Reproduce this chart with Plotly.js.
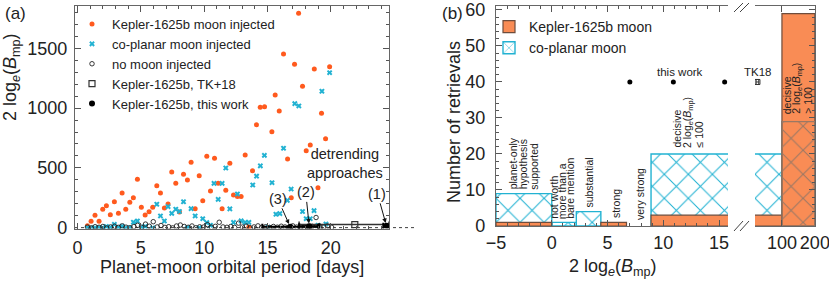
<!DOCTYPE html>
<html><head><meta charset="utf-8">
<script src="https://cdn.plot.ly/plotly-3.0.1.min.js"></script>
<style>html,body{margin:0;padding:0;background:#fff}#chart{width:829px;height:285px}</style>
</head><body><div id="chart"></div>
<script>
// ---------- Panel (a) data ----------
const keplerPeriod = [0.78,1.07,1.38,1.70,1.99,2.28,2.59,2.91,3.23,3.52,3.81,4.13,4.41,4.73,5.04,5.34,5.65,5.94,6.26,6.55,6.86,7.15,7.44,7.76,8.05,8.37,8.68,8.97,9.29,9.61,9.89,10.21,10.50,10.82,11.11,11.42,11.71,12.03,12.32,12.63,12.92,13.24,13.53,13.82,14.13,14.43,14.77,15.05,15.35,15.61,15.93,16.27,16.59,16.88,17.14,17.46,17.77,18.06,18.38,18.70,18.99,19.27,19.59,19.91];
const keplerLnB = [17,53,104,53,154,184,109,217,120,290,154,212,251,405,171,106,134,171,351,290,165,198,466,371,131,446,399,547,159,435,226,597,307,580,371,159,312,538,273,260,260,608,5.5,477,861,1007,1012,-1.5,803,1110,976,1452,574,251,1366,1793,1182,644,691,1327,334,956,744,1346];
const coplanarPeriod = [0.78,1.07,1.38,1.70,1.99,2.28,2.59,2.91,3.23,3.52,3.81,4.13,4.41,4.73,5.04,5.34,5.94,6.26,6.55,6.86,7.15,7.44,7.76,8.05,8.37,8.68,8.97,9.29,9.61,9.89,10.21,10.50,10.78,11.11,11.42,11.71,12.03,12.32,12.63,12.92,13.24,13.53,13.84,14.14,14.44,14.76,15.05,15.36,15.67,15.98,16.27,16.57,16.87,17.16,17.48,17.77,18.06,18.38,18.68,18.99,19.30,19.62,19.91];
const coplanarLnB = [-1,-1,-2,1,-1,10,3,28,3,12,-3,-1,45,56,4,10,-2,196,98,56,176,120,154,135,217,-1,159,98,-2,75,42,20,371,237,371,499,157,44,282,57,44,44,357,431,517,605,3,376,112,118,664,228,323,1037,1018,135,75,75,142,20,1141,31,1296];
const noMoonPeriod = [0.78,1.08,1.39,1.70,2.00,2.30,2.61,2.92,3.22,3.53,3.83,4.14,4.45,4.75,5.06,5.37,5.67,5.98,6.29,6.59,6.90,7.20,7.51,7.82,8.12,8.43,8.74,9.04,9.35,9.65,9.96,10.27,10.57,10.88,11.19,11.49,11.80,12.10,12.41,12.72,13.02,13.33,13.64,13.94,14.25,14.55,14.86,15.17,15.47,15.78,16.09,16.39,16.70,17.00,17.31,17.62,17.92,18.23,18.54,18.84,19.15,19.45,19.76,20.07];
const noMoonLnB = [5,-2,8,3,10,-3,6,12,2,15,4,-1,9,20,3,30,12,50,6,18,2,8,-2,14,22,10,3,14,-1,7,5,25,4,11,45,6,3,9,2,38,5,13,-2,6,15,3,8,1,10,4,12,6,2,15,5,9,3,7,11,85,4,6,14,3];
const tk18Period = [21.9], tk18LnB = [25.6], tk18ErrMinus = [4.4], tk18ErrPlus = [2.7];
const thisWorkPeriod = [24.4, 18.3, 16.8], thisWorkLnB = [15.5, 10.9, 7.0], thisWorkErr = [0.25, 0.8, 2.2];
const detrendLabels = ['(1)', '(2)', '(3)'];

// ---------- Panel (b) data ----------
const binEdges = [-5, 0, 2.2, 4.4, 6.7, 8.9, 100, 200];
const keplerCounts = [1, 0, 0, 1, 0, 3, 59];
const coplanarCounts = [9, 1, 4, 0, 0, 20, 29];
const thisWorkB = [7.0, 10.9, 15.5];
const tk18B = [25.6];
const LOGB = '2 log<sub><i>e</i></sub>(<i>B</i><sub>mp</sub>)';
const evidenceText = [
  ['planet-only', 'hypothesis', 'supported'],
  ['not worth', 'more than a', 'bare mention'],
  ['substantial'],
  ['strong'],
  ['very strong'],
  ['decisive', LOGB, '≤ 100'],
  ['decisive', LOGB, '> 100']
];

// ---------- styling / layout constants ----------
const FONT = 'Liberation Sans, Arial, sans-serif';
const ORANGE_DOT = '#ff5a1e', ORANGE_BAR = '#f98c55', BLUE = '#22b2d2', BROWN = '#9a7864';
const W = 829, H = 285;
const px = v => v / W, py = v => 1 - v / H;
const evidencePlacement = [
  {ax: 'x2', ay: 'y2', x: -2.5, y: 9.6, gap: 10},
  {ax: 'x2', ay: 'y2', x: 0.95, y: 1.4, gap: 8},
  {ax: 'x2', ay: 'y2', x: 3.35, y: 4.6, gap: 0},
  {ax: 'x2', ay: 'y2', x: 5.7, y: 1.6, gap: 0},
  {ax: 'x2', ay: 'y2', x: 7.85, y: 1.2, gap: 0},
  {ax: 'x2', ay: 'y2', x: 12.2, y: 21.2, gap: 11},
  {ax: 'x3', ay: 'y3', x: 147, y: 30.6, gap: 11}
];

// ---------- traces ----------
const traces = [];
traces.push({type: 'scatter', mode: 'markers', x: keplerPeriod, y: keplerLnB, xaxis: 'x', yaxis: 'y',
  name: 'Kepler-1625b moon injected', marker: {color: ORANGE_DOT, size: 5, symbol: 'circle'}});
traces.push({type: 'scatter', mode: 'markers', x: coplanarPeriod, y: coplanarLnB, xaxis: 'x', yaxis: 'y',
  name: 'co-planar moon injected', marker: {color: BLUE, size: 5, symbol: 'x', line: {width: 0}}});
traces.push({type: 'scatter', mode: 'markers', x: noMoonPeriod, y: noMoonLnB, xaxis: 'x', yaxis: 'y',
  name: 'no moon injected', marker: {color: '#222', size: 4.5, symbol: 'circle-open', line: {width: 0.9}}});
traces.push({type: 'scatter', mode: 'markers', x: tk18Period, y: tk18LnB, xaxis: 'x', yaxis: 'y',
  name: 'Kepler-1625b, TK+18', marker: {color: '#333', size: 6, symbol: 'square-open', line: {width: 1.2}},
  error_x: {type: 'data', symmetric: false, array: tk18ErrPlus, arrayminus: tk18ErrMinus, color: '#333', thickness: 1.5, width: 3}});
traces.push({type: 'scatter', mode: 'markers', x: thisWorkPeriod, y: thisWorkLnB, xaxis: 'x', yaxis: 'y',
  name: 'Kepler-1625b, this work', marker: {color: '#000', size: 6, symbol: 'circle'},
  error_x: {type: 'data', array: thisWorkErr, color: '#000', thickness: 2, width: 3}});

// histogram bars on both broken-axis segments
const centers = [], widths = [];
for (let i = 0; i < binEdges.length - 1; i++) {
  centers.push((binEdges[i] + binEdges[i + 1]) / 2);
  widths.push(binEdges[i + 1] - binEdges[i]);
}
function pick(cond) {
  const idx = [];
  for (let i = 0; i < centers.length; i++) if (cond(i)) idx.push(i);
  return idx;
}
const blueIdx = pick(i => coplanarCounts[i] > 0);
const orangeIdx = pick(i => keplerCounts[i] > 0);
const overIdx = pick(i => coplanarCounts[i] > 0 && keplerCounts[i] > coplanarCounts[i]);
[['x2', 'y2', true], ['x3', 'y3', false]].forEach(([xa, ya, leg]) => {
  traces.push({type: 'bar', xaxis: xa, yaxis: ya, legend: 'legend2', legendrank: 2, showlegend: leg,
    name: 'co-planar moon',
    x: blueIdx.map(i => centers[i]), y: blueIdx.map(i => coplanarCounts[i]), width: blueIdx.map(i => widths[i]),
    marker: {color: 'rgba(255,255,255,0)', line: {color: BLUE, width: 1.4},
      pattern: {shape: 'x', fgcolor: BLUE, bgcolor: 'rgba(255,255,255,0)', size: 17, solidity: 0.12}}});
  traces.push({type: 'bar', xaxis: xa, yaxis: ya, legend: 'legend2', legendrank: 1, showlegend: leg,
    name: 'Kepler-1625b moon',
    x: orangeIdx.map(i => centers[i]), y: orangeIdx.map(i => keplerCounts[i]), width: orangeIdx.map(i => widths[i]),
    marker: {color: ORANGE_BAR, line: {color: '#6e4c3c', width: 1.2}}});
  traces.push({type: 'bar', xaxis: xa, yaxis: ya, legend: 'legend2', showlegend: false, hoverinfo: 'skip',
    x: overIdx.map(i => centers[i]), y: overIdx.map(i => coplanarCounts[i]), width: overIdx.map(i => widths[i]),
    marker: {color: 'rgba(255,255,255,0)', line: {color: BROWN, width: 1.2},
      pattern: {shape: 'x', fgcolor: BROWN, bgcolor: 'rgba(255,255,255,0)', size: 17, solidity: 0.12}}});
});
traces.push({type: 'scatter', mode: 'markers', x: thisWorkB, y: thisWorkB.map(() => 40), xaxis: 'x2', yaxis: 'y2',
  showlegend: false, marker: {color: '#000', size: 5}});
traces.push({type: 'scatter', mode: 'markers', x: tk18B, y: tk18B.map(() => 40), xaxis: 'x3', yaxis: 'y3',
  showlegend: false, marker: {color: '#333', size: 5, symbol: 'square-open', line: {width: 1}},
  error_x: {type: 'data', array: [4], color: '#333', thickness: 1, width: 3}});

// ---------- axes ----------
const axisBase = {showline: true, linecolor: '#666', linewidth: 1.2, ticks: 'inside', tickcolor: '#555',
  showgrid: false, zeroline: false, tickfont: {family: FONT, size: 18, color: '#222'}};
const layout = {
  width: W, height: H, margin: {l: 0, r: 0, t: 0, b: 0},
  paper_bgcolor: '#fff', plot_bgcolor: 'rgba(0,0,0,0)',
  font: {family: FONT, color: '#222'},
  barmode: 'overlay',
  xaxis: Object.assign({}, axisBase, {domain: [px(75), px(389)], range: [-0.2, 24.6], anchor: 'y',
    tick0: 0, dtick: 5, ticklen: 6, mirror: 'allticks', ticklabelstandoff: 3,
    minor: {dtick: 1, ticklen: 3, ticks: 'inside', tickcolor: '#555'}}),
  yaxis: Object.assign({}, axisBase, {domain: [1 - 228.5 / H, py(6)], range: [-7, 1854], anchor: 'x',
    tick0: 0, dtick: 500, ticklen: 6, mirror: 'allticks', ticklabelstandoff: 3,
    minor: {dtick: 100, ticklen: 3, ticks: 'inside', tickcolor: '#555'}}),
  xaxis2: Object.assign({}, axisBase, {domain: [px(496), px(728)], range: [-5, 15.8], anchor: 'y2',
    tick0: 0, dtick: 5, ticklen: 6, mirror: 'ticks', ticklabelstandoff: 0,
    minor: {dtick: 1, ticklen: 3, ticks: 'inside', tickcolor: '#555'}}),
  yaxis2: Object.assign({}, axisBase, {domain: [1 - 226 / H, py(6)], range: [0, 61.1], anchor: 'x2',
    tick0: 0, dtick: 10, ticklen: 6, ticklabelstandoff: 6,
    minor: {dtick: 2, ticklen: 3, ticks: 'inside', tickcolor: '#555'}}),
  xaxis3: Object.assign({}, axisBase, {domain: [px(755), px(815)], range: [18.2, 200.4], anchor: 'y3',
    tickvals: [100, 200], ticktext: ['100', '200'], ticklen: 6, mirror: 'ticks', ticklabelstandoff: 0,
    ticklabeloverflow: 'allow'}),
  yaxis3: Object.assign({}, axisBase, {domain: [1 - 226 / H, py(6)], range: [0, 61.1], anchor: 'x3', side: 'right',
    tick0: 0, dtick: 10, ticklen: 6, showticklabels: false,
    minor: {dtick: 2, ticklen: 3, ticks: 'inside', tickcolor: '#555'}}),
  showlegend: true,
  legend: {x: px(72), y: py(9), xanchor: 'left', yanchor: 'top', bgcolor: 'rgba(0,0,0,0)',
    font: {family: FONT, size: 13, color: '#222'}, itemwidth: 30, tracegroupgap: 0},
  legend2: {x: px(489), y: py(11), xanchor: 'left', yanchor: 'top', bgcolor: 'rgba(0,0,0,0)',
    font: {family: FONT, size: 14, color: '#222'}, itemwidth: 30, tracegroupgap: 0},
  shapes: [
    {type: 'line', xref: 'paper', yref: 'y', x0: px(75), x1: px(416), y0: 0, y1: 0, layer: 'below',
      line: {color: '#555', width: 1.4, dash: 'dot'}},
    // axis break marks
    {type: 'line', xref: 'paper', yref: 'paper', x0: px(734), y0: py(12), x1: px(743), y1: py(3), line: {color: '#444', width: 1}},
    {type: 'line', xref: 'paper', yref: 'paper', x0: px(740), y0: py(12), x1: px(749), y1: py(3), line: {color: '#444', width: 1}},
    {type: 'line', xref: 'paper', yref: 'paper', x0: px(734), y0: py(231), x1: px(743), y1: py(221), line: {color: '#444', width: 1}},
    {type: 'line', xref: 'paper', yref: 'paper', x0: px(740), y0: py(231), x1: px(749), y1: py(221), line: {color: '#444', width: 1}}
  ],
  annotations: []
};

const ann = layout.annotations;
const txt = (text, x, y, opts) => ann.push(Object.assign({text, x, y, xref: 'paper', yref: 'paper',
  showarrow: false, xanchor: 'center', yanchor: 'middle', font: {family: FONT, size: 18, color: '#222'}}, opts || {}));
txt('(a)', px(15), py(13), {font: {family: FONT, size: 17, color: '#222'}});
txt('(b)', px(452), py(13), {font: {family: FONT, size: 17, color: '#222'}});
txt('Planet-moon orbital period [days]', px(232), py(267));
txt('2 log<sub><i>e</i></sub>(<i>B</i><sub>mp</sub>)', px(12), py(77), {textangle: -90});
txt('Number of retrievals', px(454), py(122), {textangle: -90});
txt('2 log<sub><i>e</i></sub>(<i>B</i><sub>mp</sub>)', px(613), py(267));
ann.push({text: 'detrending<br>approaches', x: 21.15, y: 535, xref: 'x', yref: 'y', showarrow: false,
  font: {family: FONT, size: 14.5, color: '#222'}});
const arrowOffsets = [[-9, -32], [-3.5, -34], [-12.5, -28]];
detrendLabels.forEach((lab, i) => {
  ann.push({text: lab, x: thisWorkPeriod[i], y: thisWorkLnB[i], xref: 'x', yref: 'y', showarrow: true,
    ax: arrowOffsets[i][0], ay: arrowOffsets[i][1], arrowhead: 2, arrowsize: 0.9, arrowwidth: 1, arrowcolor: '#111',
    standoff: 3, font: {family: FONT, size: 14.5, color: '#222'}});
});
evidenceText.forEach((lines, k) => {
  const p = evidencePlacement[k];
  lines.forEach((line, j) => {
    ann.push({text: line, x: p.x, y: p.y, xref: p.ax, yref: p.ay, showarrow: false, textangle: -90,
      xanchor: 'center', yanchor: 'bottom', xshift: (j - (lines.length - 1) / 2) * p.gap,
      font: {family: FONT, size: 10.5, color: '#222'}});
  });
});
ann.push({text: 'this work', x: 11.5, y: 42.9, xref: 'x2', yref: 'y2', showarrow: false,
  font: {family: FONT, size: 11.5, color: '#222'}});
ann.push({text: 'TK18', x: 26.4, y: 42.9, xref: 'x3', yref: 'y3', showarrow: false,
  font: {family: FONT, size: 11.5, color: '#222'}});

Plotly.newPlot('chart', traces, layout, {staticPlot: true, displayModeBar: false});
</script>
</body></html>
